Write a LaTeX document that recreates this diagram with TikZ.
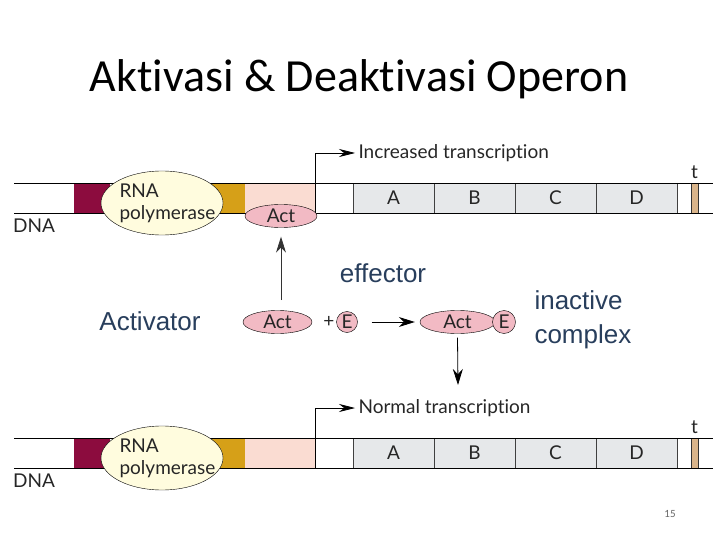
\documentclass[tikz,border=0pt]{standalone}
\usepackage{fontspec}
\setmainfont{Carlito}[Ligatures=NoCommon]
\newfontfamily\figfont{Lato}[Ligatures=NoCommon]
\newfontfamily\notefont{Liberation Sans}
\usetikzlibrary{arrows.meta,shapes.geometric}

\definecolor{promred}{RGB}{140,12,62}
\definecolor{promgold}{RGB}{214,160,24}
\definecolor{oppink}{RGB}{250,220,210}
\definecolor{actpink}{RGB}{242,186,196}
\definecolor{genegray}{RGB}{230,232,234}
\definecolor{polyellow}{RGB}{255,252,222}
\definecolor{termtan}{RGB}{217,180,138}
\definecolor{noteblue}{RGB}{40,62,92}

\tikzset{
  figtext/.style={font=\figfont\fontsize{19}{22}\selectfont, text=black!85},
  genebox/.style={draw=black!75, fill=genegray, minimum width=81pt, minimum height=30pt, inner sep=0pt, figtext},
  polnode/.style={ellipse, draw, fill=polyellow, minimum width=122pt, minimum height=64pt, inner sep=0pt},
  actnode/.style={ellipse, draw, fill=actpink, inner sep=0pt, minimum height=23pt, figtext},
  effnode/.style={circle, draw, fill=actpink, inner sep=0pt, minimum size=21pt, figtext},
  note/.style={font=\notefont\fontsize{26}{34}\selectfont, text=noteblue},
  arr/.style={-{Stealth[length=16pt,width=10pt]}, line width=0.8pt},
  promarr/.style={-{Stealth[length=16pt,width=8pt]}, line width=0.7pt}
}

\begin{document}
\begin{tikzpicture}[x=1pt,y=-1pt]
  \useasboundingbox (0,0) rectangle (720,540);

  \node[anchor=base, font=\fontsize{46}{50}\selectfont] (title) at (359,92) {Aktivasi \& Deaktivasi Operon};

  % the two operon strips
  \foreach \i/\t/\txt in {up/183/Increased transcription, low/438/Normal transcription} {
    \pgfmathsetmacro{\b}{\t+30}
    \fill[promred] (74,\t) rectangle (110,\b);
    \fill[promgold] (212,\t) rectangle (245,\b);
    \fill[oppink] (245,\t) rectangle (315,\b);
    \fill[termtan] (691,\t) rectangle (698,\b);
    \draw[black!80] (691,\t) -- (691,\b) (698,\t) -- (698,\b) (677,\t) -- (677,\b);
    \foreach \g/\x in {A/353,B/434,C/515,D/596}
      \node[genebox] (gene\i\g) at (\x+40.5,\t+15) {\g};
    \draw[line width=0.8pt] (14,\t) -- (713,\t) (14,\b) -- (713,\b);
    \node[polnode] (pol\i) at (162,\t+20) {};
    \node[figtext, align=left, anchor=west] at (116,\t+20) {RNA\\polymerase};
    \node[figtext, anchor=west] (tx\i) at (355,\t-30) {\txt};
    \coordinate (prom\i) at (315,\b);
    \draw[promarr] (prom\i) |- (tx\i.west);
    \node[figtext] at (694.5,\t-11) {t};
    \node[figtext, anchor=west, inner sep=0pt] at (13,\t+43) {DNA};
  }
  \node[actnode, minimum width=72pt] (acttop) at (281,216) {Act};

  % activator and effector
  \node[actnode, minimum width=69pt] (actfree) at (277.5,322) {Act};
  \node[figtext] (plus) at (329,322) {+};
  \node[effnode] (eff) at (347,322) {E};
  \node[actnode, minimum width=75pt] (actcplx) at (457.5,322) {Act};
  \node[effnode, minimum size=23pt] (effcplx) at (504,322) {E};
  \draw[arr] ([xshift=14pt]eff.east) -- ([xshift=-5pt]actcplx.west);

  \coordinate (actup) at (281,300);
  \draw[arr, black!80] (actup) -- ([yshift=-9pt]acttop.south);
  \coordinate (actdown) at (458,385);
  \draw[arr] ([yshift=-4pt]actcplx.south) -- (actdown);

  \node[note] (effector) at (383,273) {effector};
  \node[note] (activator) at (150,321) {Activator};
  \node[note, align=left, anchor=west] (inactive) at (531,320) {inactive\\complex};

  \node[font=\fontsize{11}{13}\selectfont, text=black!60] (page) at (670,514) {15};
\end{tikzpicture}
\end{document}
